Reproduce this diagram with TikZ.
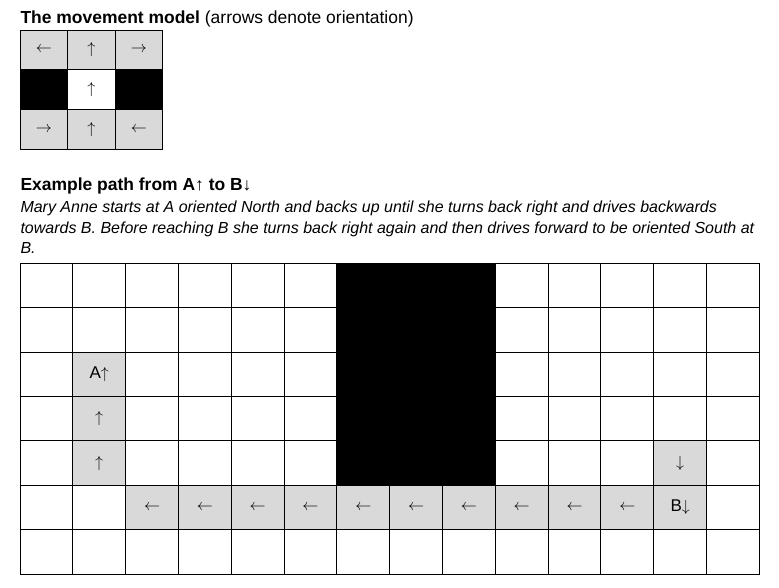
\documentclass[tikz,border=0pt]{standalone}
\usepackage{fontspec}
\setmainfont{Liberation Sans}
\definecolor{cellgray}{HTML}{D9D9D9}
\tikzset{
    txt/.style={anchor=base west, inner sep=0pt},
    big/.style={font=\fontsize{13.1}{15}\selectfont},
    body/.style={font=\fontsize{12}{15}\selectfont\itshape},
    arr/.style={inner sep=0pt, font=\fontsize{12.75}{15}\selectfont},
    gridline/.style={line cap=rect}
}

\begin{document}
\begin{tikzpicture}[x=0.75pt, y=-0.75pt, line width=0.75pt]
    \useasboundingbox (0,0) rectangle (779,587);
    \node[txt, big] (title) at (20,23) {\textbf{The movement model} (arrows denote orientation)};
    % movement model
    \begin{scope}[shift={(20,30)}, x=35.66pt, y=-29.83pt]
        \fill[cellgray] (0,0) rectangle (3,1) (0,2) rectangle (3,3);
        \fill (0,1) rectangle (1,2) (2,1) rectangle (3,2);
        \foreach \k in {0,...,3} {
            \draw[gridline] (\k,0) -- (\k,3);
            \draw[gridline] (0,\k) -- (3,\k);
        }
        \foreach \c/\r/\a [count=\i] in {0/0/\leftarrow, 1/0/\uparrow, 2/0/\rightarrow, 1/1/\uparrow, 0/2/\rightarrow, 1/2/\uparrow, 2/2/\leftarrow}
            \node[arr] (move\i) at (\c+.5,\r+.5) {$\a$};
    \end{scope}
    \node[txt, big] (example) at (20,190.7) {\textbf{Example path from A↑ to B↓}};
    \node[txt, body] (story1) at (20,212) {Mary Anne starts at A oriented North and backs up until she turns back right and drives backwards};
    \node[txt, body] (story2) at (20,233) {towards B. Before reaching B she turns back right again and then drives forward to be oriented South at};
    \node[txt, body] (story3) at (20,253.5) {B.};
    % example path
    \begin{scope}[shift={(20,263.3)}, x=39.61pt, y=-33.29pt]
        \fill[cellgray] (1,2) rectangle (2,5) (2,5) rectangle (13,6) (12,4) rectangle (13,5);
        \fill (6,0) rectangle (9,5);
        \foreach \x in {0,...,14}
            \draw[gridline] (\x,0) -- (\x,7);
        \foreach \y in {0,...,7}
            \draw[gridline] (0,\y) -- (14,\y);
        \node[arr] (A) at (1.5,2.5) {A$\uparrow$};
        \foreach \r [count=\i] in {3,4}
            \node[arr] (up\i) at (1.5,\r+.5) {$\uparrow$};
        \foreach \c [count=\i] in {2,...,11}
            \node[arr] (left\i) at (\c+.5,5.5) {$\leftarrow$};
        \node[arr] (down) at (12.5,4.5) {$\downarrow$};
        \node[arr] (B) at (12.5,5.5) {B$\downarrow$};
    \end{scope}
\end{tikzpicture}
\end{document}
